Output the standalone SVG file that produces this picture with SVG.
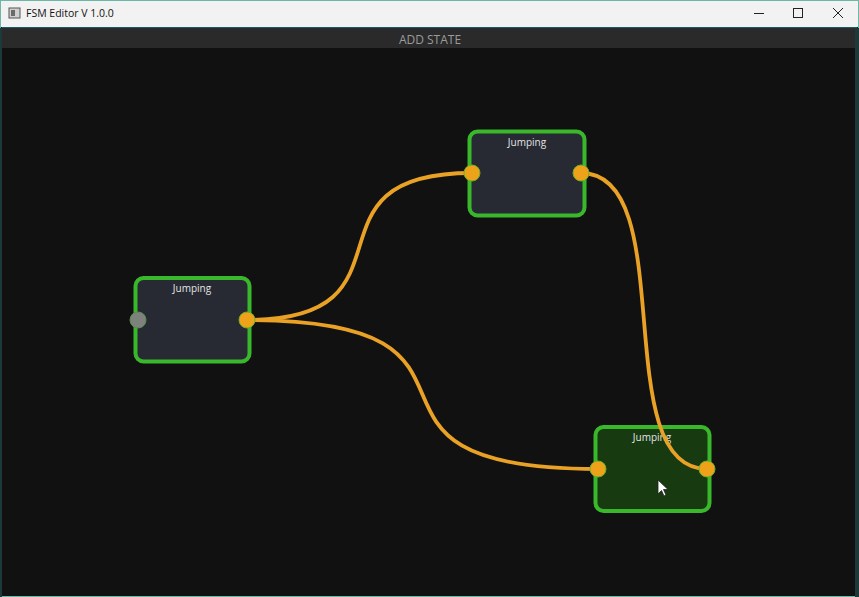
<svg xmlns="http://www.w3.org/2000/svg" width="859" height="597" viewBox="0 0 859 597">
  <style>
    .node { stroke: #3ab82c; stroke-width: 4; }
    .body { fill: #272a33; }
    .active { fill: #173a11; }
    .title { font-family: "Open Sans", "Noto Sans", sans-serif; font-size: 10px; fill: #e4e4e4; text-anchor: middle; }
    .wire { fill: none; stroke: #e9a225; stroke-width: 3.8; stroke-linecap: round; }
    .port { fill: #eea21a; stroke: #6fae2a; stroke-width: 1; }
    .port-off { fill: #7d827c; stroke: #5f8a55; stroke-width: 1; }
    .winbtn { stroke: #222; stroke-width: 1; fill: none; }
  </style>

  <!-- window frame -->
  <rect x="0" y="0" width="859" height="597" fill="#111111"/>
  <rect x="0" y="0" width="859" height="27" fill="#f2f2f2"/>
  <rect x="0.5" y="0.5" width="858" height="596" fill="none" stroke="#6cb7a6" stroke-width="1"/>
  <rect x="2" y="27" width="855" height="1.5" fill="#1e5a60"/>
  <rect x="2" y="28.5" width="855" height="19.5" fill="#2a2a2a"/>
  <rect x="855" y="28" width="4" height="569" fill="#1c3a3a"/>
  <rect x="0" y="28" width="2" height="569" fill="#1c3a3a"/>

  <g id="titlebar">
    <rect x="9" y="8" width="11" height="10" fill="#d0d0d0" stroke="#555" stroke-width="1"/>
    <rect x="11" y="10" width="4" height="6" fill="#6a6a6a"/>
    <text x="26" y="17" font-family="'Open Sans', 'Noto Sans', sans-serif" font-size="10.5" fill="#111">FSM Editor V 1.0.0</text>
    <line x1="754" y1="13.5" x2="764" y2="13.5" class="winbtn"/>
    <rect x="793.5" y="8.5" width="9" height="9" class="winbtn"/>
    <path d="M833 8 L843 18 M843 8 L833 18" class="winbtn"/>
  </g>

  <g id="toolbar">
    <text x="430" y="43.5" font-family="'Open Sans', 'Noto Sans', sans-serif" font-size="12" fill="#9b9b9b" text-anchor="middle">ADD STATE</text>
  </g>

  <g id="node1">
    <rect x="135.5" y="278" width="114" height="83.5" rx="8" class="node body"/>
    <text x="192" y="292" class="title">Jumping</text>
  </g>
  <g id="node2">
    <rect x="469.5" y="131.5" width="115" height="84" rx="8" class="node body"/>
    <text x="527" y="146" class="title">Jumping</text>
  </g>
  <g id="node3">
    <rect x="595.5" y="427" width="114" height="84" rx="8" class="node active"/>
    <text x="652" y="441" class="title">Jumping</text>
  </g>

  <g id="connectors">
    <path class="wire" d="M247 320 C427 320 292 173 472 173"/>
    <path class="wire" d="M247 320 C535 320 310 469 598 469"/>
    <path class="wire" d="M581 173 C682 173 606 469 707 469"/>
  </g>

  <g id="node1-ports">
    <circle cx="138" cy="320" r="8" class="port-off"/>
    <circle cx="247" cy="320" r="8" class="port"/>
  </g>
  <g id="node2-ports">
    <circle cx="472" cy="173" r="8" class="port"/>
    <circle cx="581" cy="173" r="8" class="port"/>
  </g>
  <g id="node3-ports">
    <circle cx="598" cy="469" r="8" class="port"/>
    <circle cx="707" cy="469" r="8" class="port"/>
  </g>

  <g id="cursor">
    <path d="M658 480 L658 494 L661.5 490.5 L664 496 L666 495 L663.5 489.5 L668 489.5 Z" fill="#ffffff" stroke="#222" stroke-width="0.8"/>
  </g>
</svg>
